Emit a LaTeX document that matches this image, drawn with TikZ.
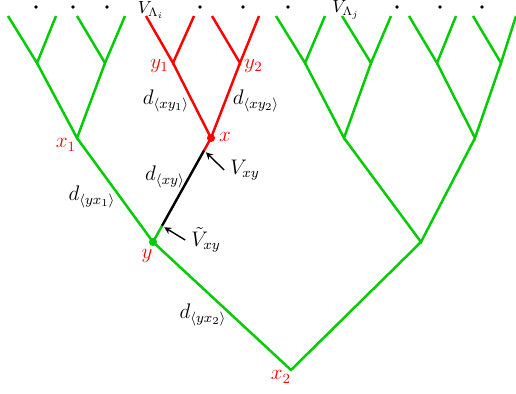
\documentclass[tikz,border=0pt]{standalone}
\usepackage{amsmath,amssymb}
\usetikzlibrary{calc}
\definecolor{treegreen}{RGB}{0,204,0}

\begin{document}
\begin{tikzpicture}[scale=1.0,>=stealth,
  gbr/.style={treegreen,line width=1.4pt},
  rbr/.style={red,line width=1.4pt},
  vlab/.style={red,font=\large},
  dlab/.style={font=\large}]
\useasboundingbox (0,0) rectangle (10.32,7.88);
% leaves
\foreach \n/\xx in {1/0.16,2/1.12,3/1.54,4/2.50,5/2.92,6/3.88,7/4.24,8/5.18,
  9/5.52,10/6.50,11/6.84,12/7.82,13/8.18,14/9.12,15/9.46,16/10.32}
  \coordinate (l\n) at (\xx,7.56);
% vertices
\coordinate (a1) at (0.74,6.62);
\coordinate (a2) at (2.10,6.62);
\coordinate (y1) at (3.46,6.62);
\coordinate (y2) at (4.80,6.62);
\coordinate (a5) at (6.10,6.62);
\coordinate (a6) at (7.42,6.62);
\coordinate (a7) at (8.74,6.62);
\coordinate (a8) at (10.02,6.62);
\coordinate (x1) at (1.54,5.12);
\coordinate (x) at (4.22,5.12);
\coordinate (b3) at (6.88,5.12);
\coordinate (b4) at (9.50,5.12);
\coordinate (y) at (3.06,3.04);
\coordinate (c2) at (8.42,3.04);
\coordinate (x2) at (5.82,0.48);
\coordinate (p) at ($(x)!0.12!(y)$);
\coordinate (q) at ($(x)!0.845!(y)$);

% green part
\foreach \a/\l/\r in {a1/l1/l2,a2/l3/l4,a5/l9/l10,a6/l11/l12,a7/l13/l14,a8/l15/l16,
  x1/a1/a2,b3/a5/a6,b4/a7/a8,c2/b3/b4}
  \draw[gbr] (\l) -- (\a) -- (\r);
\draw[gbr] (x1) -- (y) -- (x2) -- (c2);
\draw[gbr] (q) -- (y);
% red part
\draw[rbr] (l5) -- (y1) -- (l6);
\draw[rbr] (l7) -- (y2) -- (l8);
\draw[rbr] (y1) -- (x) -- (y2);
\draw[rbr] (x) -- (p);
\draw[line width=1.4pt] (p) -- (q);
\fill[red] (x) circle (2.3pt);
\fill[treegreen] (y) circle (2.3pt);

% top dots
\foreach \xx in {0.72,1.46,2.14,4.00,4.86,5.76,7.94,8.80,9.64}
  \fill (\xx,7.74) circle (1pt);
\node (vli) at (3.02,7.68) {$V_{\Lambda_i}$};
\node (vlj) at (6.92,7.68) {$V_{\Lambda_j}$};

% labels
\node[vlab,anchor=east] (ny1) at (3.50,6.56) {$y_1$};
\node[vlab,anchor=west] (ny2) at (4.76,6.56) {$y_2$};
\node[vlab,anchor=west] (nx) at (4.26,5.14) {$x$};
\node[vlab] (nx1) at (1.32,4.98) {$x_1$};
\node[vlab] (ny) at (2.94,2.76) {$y$};
\node[vlab] (nx2) at (5.62,0.34) {$x_2$};
\node[dlab] (dxy1) at (3.32,5.86) {$d_{\langle xy_1\rangle}$};
\node[dlab] (dxy2) at (5.12,5.86) {$d_{\langle xy_2\rangle}$};
\node[dlab] (dxy) at (3.30,4.34) {$d_{\langle xy\rangle}$};
\node[dlab] (dyx1) at (1.84,3.94) {$d_{\langle yx_1\rangle}$};
\node[dlab] (dyx2) at (4.06,1.58) {$d_{\langle yx_2\rangle}$};

% arrows
\node[dlab] (vxy) at (4.90,4.48) {$V_{xy}$};
\node[dlab] (tvxy) at (4.12,3.08) {$\tilde{V}_{xy}$};
\draw[->,thick,shorten >=1.5pt] (vxy.west) -- (p);
\draw[->,thick,shorten >=1.5pt] (tvxy.west) -- (q);
\end{tikzpicture}
\end{document}
